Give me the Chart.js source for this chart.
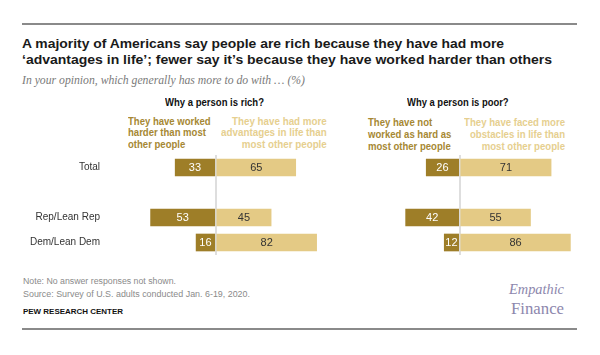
<!DOCTYPE html>
<html>
<head>
<meta charset="utf-8">
<script src="https://cdn.jsdelivr.net/npm/chart.js@4.4.1/dist/chart.umd.min.js"></script>
<style>
  html, body { margin: 0; padding: 0; background: #fff; }
  #wrap { position: relative; width: 600px; height: 355px; overflow: hidden; background: #fff; }
  .t { position: absolute; white-space: nowrap; display: inline-block; }
  .rule { position: absolute; left: 22px; width: 555px; height: 2px; background: #8a8a8a; }
  .title { font: bold 13px/13px "Liberation Sans", Arial, sans-serif; color: #1a1a1a; }
  .sub { font: italic 11.5px/11.5px "Liberation Serif", "Times New Roman", serif; color: #7a7a7a; }
  .ph { font: bold 10.5px/10.5px "Liberation Sans", Arial, sans-serif; color: #111; }
  .ch { font: bold 10px/11.7px "Liberation Sans", Arial, sans-serif; }
  .dark { color: #a68833; }
  .light { color: #e6cf8f; text-align: right; }
  .foot { font: 8.5px/8.5px "Liberation Sans", Arial, sans-serif; color: #8a8a8a; }
  .pew { font: bold 8px/8px "Liberation Sans", Arial, sans-serif; color: #111; }
  .logo1 { font: italic 15px/15px "Liberation Serif", serif; color: #8d87ad; }
  .logo2 { font: 17.5px/17.5px "Liberation Serif", serif; color: #8d87ad; }
  canvas { position: absolute; }
</style>
</head>
<body>
<div id="wrap">
  <div class="rule" style="top:23px"></div>
  <div class="t title" style="left:22px;top:36.7px" data-w="482">A majority of Americans say people are rich because they have had more</div>
  <div class="t title" style="left:22px;top:53.2px" data-w="530">‘advantages in life’; fewer say it’s because they have worked harder than others</div>
  <div class="t sub" style="left:22px;top:74.7px" data-w="283">In your opinion, which generally has more to do with … (%)</div>

  <div class="t ph" style="left:165px;top:97.1px" data-w="99">Why a person is rich?</div>
  <div class="t ph" style="left:406.7px;top:97.1px" data-w="101.6">Why a person is poor?</div>

  <div class="t ch dark" style="left:128px;top:115.7px" data-w="82.7">They have worked<br>harder than most<br>other people</div>
  <div class="t ch light" style="right:273px;top:115.7px" data-w="105.7" data-o="right">They have had more<br>advantages in life than<br>most other people</div>
  <div class="t ch dark" style="left:368px;top:117.2px" data-w="83.3">They have not<br>worked as hard as<br>most other people</div>
  <div class="t ch light" style="right:35px;top:117.2px" data-w="101" data-o="right">They have faced more<br>obstacles in life than<br>most other people</div>

  <canvas id="rich" width="340" height="100" style="left:0;top:155px"></canvas>
  <canvas id="poor" width="260" height="100" style="left:340px;top:155px"></canvas>

  <div class="t foot" style="left:22.7px;top:277.3px" data-w="153">Note: No answer responses not shown.</div>
  <div class="t foot" style="left:22.7px;top:289.5px" data-w="227">Source: Survey of U.S. adults conducted Jan. 6-19, 2020.</div>
  <div class="t pew" style="left:22.7px;top:308.2px" data-w="100">PEW RESEARCH CENTER</div>
  <div class="t logo1" style="left:509px;top:282.4px" data-w="55">Empathic</div>
  <div class="t logo2" style="left:510.7px;top:299.6px" data-w="53">Finance</div>
  <div class="rule" style="top:328px"></div>
</div>
<script>
// ---- data ----
const categories = ['Total', '', 'Rep/Lean Rep', 'Dem/Lean Dem'];
const richWorkedHarder = [33, null, 53, 16];
const richAdvantages   = [65, null, 45, 82];
const poorNotWorked    = [26, null, 42, 12];
const poorObstacles    = [71, null, 55, 86];

const DARK = '#9e7e28';
const LIGHT = '#e4ca85';

// fit text widths
document.querySelectorAll('[data-w]').forEach(el => {
  const w = el.getBoundingClientRect().width;
  const target = parseFloat(el.dataset.w);
  const s = target / w;
  el.style.transformOrigin = (el.dataset.o || 'left') + ' center';
  el.style.transform = 'scaleX(' + s.toFixed(4) + ')';
});

const valueLabels = {
  id: 'valueLabels',
  afterDatasetsDraw(chart) {
    const ctx = chart.ctx;
    ctx.save();
    ctx.font = '11px "Liberation Sans", Arial, sans-serif';
    ctx.textAlign = 'center';
    ctx.textBaseline = 'middle';
    chart.data.datasets.forEach((ds, i) => {
      const meta = chart.getDatasetMeta(i);
      meta.data.forEach((bar, j) => {
        const v = ds.data[j];
        if (v == null) return;
        ctx.fillStyle = i === 0 ? '#ffffff' : '#333333';
        ctx.fillText(String(Math.abs(v)), (bar.x + bar.base) / 2, bar.y + 0.5);
      });
    });
    ctx.restore();
  }
};

function makeChart(id, neg, pos, min, max, showY) {
  return new Chart(document.getElementById(id), {
    type: 'bar',
    data: {
      labels: categories,
      datasets: [
        { data: neg.map(v => v == null ? null : -v), backgroundColor: DARK, barThickness: 17, clip: false },
        { data: pos, backgroundColor: LIGHT, barThickness: 17, clip: false }
      ]
    },
    options: {
      indexAxis: 'y',
      responsive: false,
      animation: false,
      devicePixelRatio: 1,
      layout: { padding: 0 },
      plugins: { legend: { display: false }, tooltip: { enabled: false }, title: { display: false } },
      scales: {
        x: {
          stacked: true, min: min, max: max, z: 1,
          border: { display: false },
          ticks: { display: false },
          grid: {
            drawTicks: false,
            lineWidth: 2,
            color: c => (c.tick && c.tick.value === 0) ? '#dedede' : 'rgba(0,0,0,0)'
          },
          afterBuildTicks: s => { s.ticks = [{ value: 0 }]; },
          afterFit: s => { s.height = 0; s.paddingLeft = 0; s.paddingRight = 0; }
        },
        y: {
          stacked: true,
          display: showY,
          border: { display: false },
          grid: { display: false, drawTicks: false },
          ticks: { color: '#333', font: { family: '"Liberation Sans", Arial, sans-serif', size: 10 }, padding: 10, autoSkip: false },
          afterFit: s => {
            s.width = showY ? 110 : 0;
            s.paddingTop = 0;
            s.paddingBottom = 0;
          }
        }
      }
    },
    plugins: [valueLabels]
  });
}

makeChart('rich', richWorkedHarder, richAdvantages, -86, 101, true);
makeChart('poor', poorNotWorked, poorObstacles, -93, 109, false);
</script>
</body>
</html>
